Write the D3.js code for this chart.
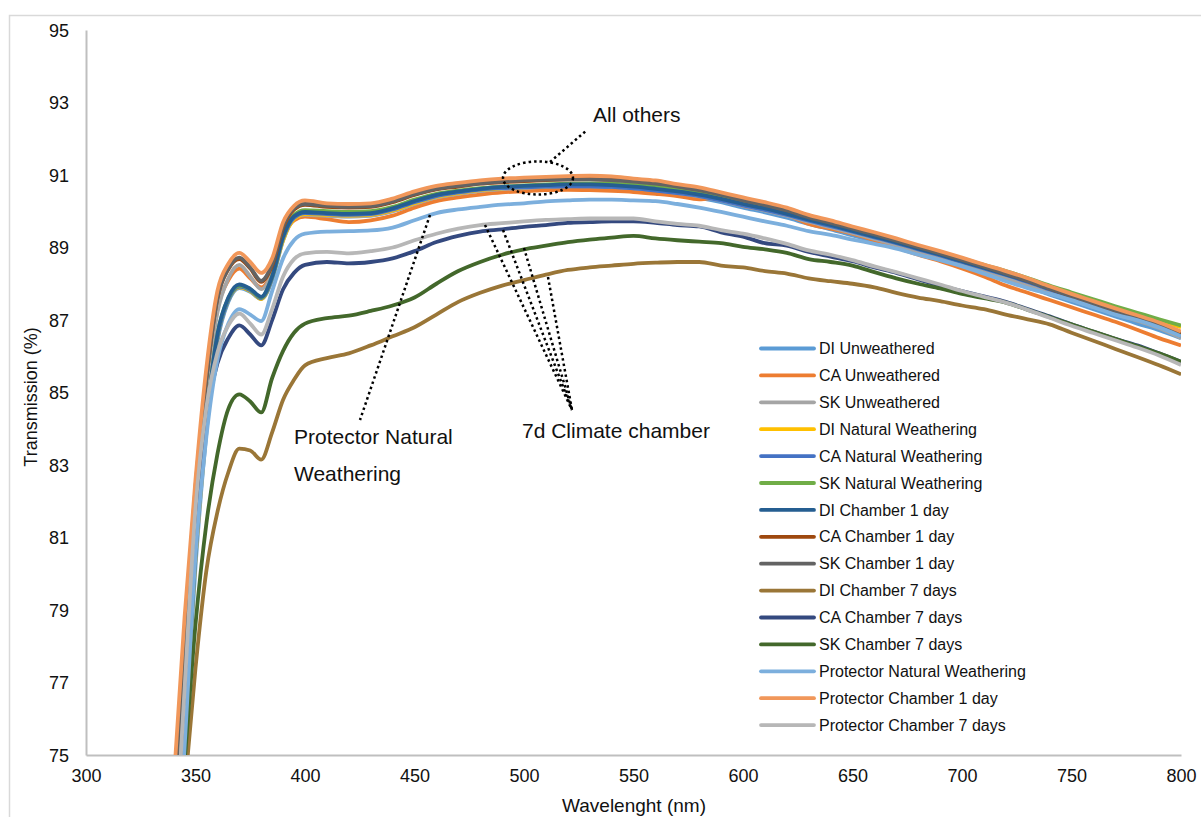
<!DOCTYPE html>
<html>
<head>
<meta charset="utf-8">
<script src="https://d3js.org/d3.v7.min.js"></script>
<style>
  body { margin: 0; background: #fff; }
  svg { font-family: "Liberation Sans", Arial, sans-serif; }
  .tick text { fill: #111; font-size: 18px; }
</style>
</head>
<body>
<svg id="chart" width="1201" height="817"></svg>
<script>
// wavelengths (nm) shared by every series
const wavelengths = [340,345,350,355,360,365,370,375,380,385,390,395,400,
  410,420,430,440,450,460,470,480,490,500,
  510,520,530,540,550,560,570,580,590,600,
  610,620,630,640,650,660,670,680,690,700,
  710,720,730,740,750,760,770,780,790,800];

const seriesNames = ["DI Unweathered","CA Unweathered","SK Unweathered",
  "DI Natural Weathering","CA Natural Weathering","SK Natural Weathering",
  "DI Chamber 1 day","CA Chamber 1 day","SK Chamber 1 day",
  "DI Chamber 7 days","CA Chamber 7 days","SK Chamber 7 days",
  "Protector Natural Weathering","Protector Chamber 1 day","Protector Chamber 7 days"];

const seriesColors = ["#5B9BD5","#ED7D31","#A5A5A5","#FFC000","#4472C4","#70AD47",
  "#255E91","#9E480E","#636363","#9A7637","#34497F","#43682B",
  "#7CAFDD","#F1975A","#B7B7B7"];

const diUnweathered = [71.5,75.3,80.2,83.9,86.4,87.5,87.88,87.78,87.58,88.1,89.2,89.78,89.9,
  89.88,89.86,89.88,90.0,90.2,90.38,90.48,90.56,90.6,90.63,
  90.65,90.66,90.66,90.64,90.6,90.54,90.46,90.37,90.25,90.1,
  89.97,89.82,89.65,89.5,89.33,89.17,89.0,88.82,88.65,88.47,
  88.29,88.1,87.91,87.7,87.5,87.3,87.1,86.9,86.72,86.5];
const caUnweathered = [73.2,78.0,82.0,85.2,87.3,88.1,88.42,88.15,87.9,88.3,89.3,89.75,89.85,
  89.78,89.7,89.75,89.88,90.1,90.28,90.38,90.46,90.52,90.55,
  90.58,90.59,90.58,90.56,90.53,90.48,90.42,90.33,90.4,90.15,
  90.05,89.9,89.65,89.52,89.38,89.2,89.0,88.8,88.62,88.42,
  88.2,87.95,87.75,87.55,87.35,87.15,86.95,86.73,86.5,86.3];
const skUnweathered = [73.0,77.8,81.9,85.0,87.2,88.15,88.52,88.2,87.85,88.3,89.35,89.82,89.9,
  89.87,89.85,89.88,90.0,90.2,90.38,90.48,90.56,90.61,90.64,
  90.67,90.69,90.7,90.68,90.64,90.58,90.5,90.41,90.29,90.15,
  90.02,89.88,89.71,89.56,89.4,89.24,89.07,88.89,88.72,88.54,
  88.36,88.17,87.97,87.76,87.56,87.36,87.17,86.98,86.78,86.5];
const diNatural = [71.8,75.6,80.4,84.0,86.5,87.55,87.9,87.8,87.58,88.15,89.2,89.78,89.92,
  89.9,89.88,89.9,90.02,90.22,90.4,90.5,90.58,90.63,90.66,
  90.69,90.71,90.72,90.7,90.67,90.62,90.55,90.46,90.34,90.21,
  90.09,89.94,89.78,89.63,89.47,89.31,89.15,88.97,88.81,88.65,
  88.47,88.3,88.11,87.9,87.71,87.52,87.34,87.16,86.98,86.8];
const caNatural = [71.9,75.7,80.5,84.1,86.5,87.55,87.92,87.82,87.6,88.15,89.25,89.82,89.95,
  89.92,89.9,89.92,90.05,90.25,90.42,90.52,90.6,90.64,90.66,
  90.68,90.69,90.69,90.67,90.63,90.57,90.5,90.42,90.3,90.16,
  90.04,89.9,89.74,89.59,89.44,89.28,89.12,88.95,88.78,88.6,
  88.42,88.24,88.05,87.84,87.64,87.44,87.24,87.05,86.86,86.62];
const skNatural = [72.0,75.8,80.6,84.2,86.6,87.6,87.95,87.85,87.62,88.2,89.3,89.9,90.03,
  90.0,89.98,90.0,90.12,90.32,90.48,90.57,90.64,90.68,90.71,
  90.74,90.76,90.77,90.76,90.73,90.68,90.6,90.52,90.4,90.27,
  90.15,90.0,89.83,89.68,89.52,89.36,89.2,89.02,88.86,88.7,
  88.52,88.35,88.16,87.95,87.76,87.57,87.38,87.2,87.02,86.85];
const diChamber1 = [71.9,75.7,80.6,84.2,86.6,87.62,87.98,87.86,87.64,88.2,89.3,89.86,89.98,
  89.95,89.93,89.95,90.08,90.28,90.45,90.55,90.62,90.67,90.7,
  90.72,90.74,90.74,90.72,90.68,90.62,90.55,90.46,90.34,90.2,
  90.08,89.93,89.77,89.62,89.46,89.3,89.14,88.97,88.8,88.62,
  88.44,88.26,88.07,87.86,87.66,87.46,87.26,87.07,86.88,86.6];
const caChamber1 = [73.6,78.4,82.4,85.4,87.6,88.4,88.68,88.42,88.05,88.5,89.55,90.05,90.18,
  90.12,90.1,90.12,90.25,90.45,90.6,90.68,90.76,90.8,90.83,
  90.86,90.88,90.89,90.87,90.83,90.78,90.7,90.6,90.47,90.32,
  90.19,90.04,89.85,89.7,89.54,89.38,89.21,89.03,88.86,88.68,
  88.49,88.3,88.1,87.88,87.67,87.47,87.27,87.08,86.88,86.6];
const skChamber1 = [73.5,78.3,82.3,85.4,87.6,88.42,88.72,88.45,88.08,88.55,89.6,90.08,90.2,
  90.15,90.12,90.14,90.27,90.47,90.62,90.7,90.77,90.82,90.85,
  90.87,90.88,90.88,90.86,90.82,90.76,90.68,90.58,90.45,90.3,
  90.17,90.02,89.83,89.68,89.52,89.36,89.19,89.01,88.84,88.66,
  88.47,88.28,88.08,87.86,87.65,87.45,87.25,87.06,86.85,86.56];
const diChamber7 = [70.0,74.0,77.4,80.1,81.7,82.8,83.45,83.4,83.15,83.9,84.8,85.35,85.75,
  85.95,86.08,86.3,86.55,86.8,87.15,87.5,87.75,87.95,88.1,
  88.25,88.38,88.45,88.5,88.55,88.58,88.6,88.6,88.5,88.45,
  88.35,88.28,88.15,88.07,88.0,87.9,87.75,87.62,87.52,87.4,
  87.3,87.15,87.02,86.88,86.65,86.43,86.2,85.98,85.75,85.5];
const caChamber7 = [70.5,75.8,81.3,84.3,85.8,86.5,86.85,86.6,86.3,87.0,87.85,88.3,88.52,
  88.6,88.56,88.6,88.7,88.9,89.15,89.32,89.44,89.5,89.57,
  89.62,89.68,89.7,89.72,89.72,89.68,89.62,89.58,89.42,89.3,
  89.12,89.05,88.88,88.75,88.62,88.45,88.3,88.12,87.95,87.8,
  87.65,87.5,87.3,87.1,86.88,86.68,86.48,86.3,86.08,85.85];
const skChamber7 = [71.0,74.8,78.6,81.4,83.3,84.55,84.95,84.75,84.45,85.4,86.15,86.65,86.9,
  87.05,87.12,87.25,87.4,87.62,88.0,88.35,88.6,88.8,88.95,
  89.05,89.15,89.22,89.27,89.32,89.25,89.2,89.16,89.12,89.02,
  88.95,88.85,88.68,88.6,88.5,88.32,88.15,88.0,87.87,87.72,
  87.6,87.48,87.28,87.08,86.88,86.68,86.48,86.28,86.08,85.85];
const protectorNatural = [70.5,75.2,80.5,83.8,85.9,86.9,87.3,87.15,86.97,87.8,88.7,89.2,89.38,
  89.44,89.45,89.47,89.55,89.75,89.95,90.05,90.12,90.18,90.22,
  90.27,90.3,90.32,90.32,90.3,90.28,90.2,90.1,89.98,89.85,
  89.72,89.6,89.45,89.35,89.22,89.1,88.97,88.8,88.65,88.48,
  88.28,88.07,87.88,87.72,87.55,87.35,87.15,87.0,86.8,86.55];
const protectorChamber1 = [74.2,78.8,82.6,85.7,87.8,88.55,88.85,88.6,88.3,88.7,89.7,90.15,90.3,
  90.22,90.2,90.22,90.35,90.55,90.7,90.78,90.85,90.9,90.93,
  90.95,90.97,90.98,90.96,90.9,90.85,90.75,90.66,90.52,90.38,
  90.25,90.1,89.9,89.75,89.58,89.42,89.25,89.07,88.9,88.72,
  88.53,88.35,88.15,87.93,87.72,87.52,87.32,87.13,86.93,86.68];
const protectorChamber7 = [71.5,76.8,81.8,84.6,86.1,86.85,87.18,86.9,86.6,87.3,88.2,88.68,88.84,
  88.88,88.84,88.9,89.0,89.2,89.38,89.52,89.62,89.67,89.72,
  89.76,89.78,89.8,89.8,89.8,89.72,89.65,89.6,89.48,89.38,
  89.25,89.1,88.92,88.8,88.65,88.48,88.32,88.15,87.98,87.8,
  87.64,87.48,87.28,87.06,86.84,86.64,86.44,86.24,86.02,85.76];

const seriesValues = [diUnweathered, caUnweathered, skUnweathered, diNatural, caNatural, skNatural,
  diChamber1, caChamber1, skChamber1, diChamber7, caChamber7, skChamber7,
  protectorNatural, protectorChamber1, protectorChamber7];

const xTicks = [300,350,400,450,500,550,600,650,700,750,800];
const yTicks = [75,77,79,81,83,85,87,89,91,93,95];

const svg = d3.select('#chart');

// outer chart frame
svg.append('rect')
  .attr('x', 9.5).attr('y', 15.5)
  .attr('width', 1195).attr('height', 810)
  .attr('fill', 'none').attr('stroke', '#D9D9D9').attr('stroke-width', 1.5);

const x = d3.scaleLinear().domain([300, 800]).range([86, 1181]);
const y = d3.scaleLinear().domain([75, 95]).range([755, 30]);

svg.append('defs').append('clipPath').attr('id', 'plotClip')
  .append('rect').attr('x', 86).attr('y', 30).attr('width', 1095).attr('height', 725);

// axes
const yAxis = svg.append('g').attr('transform', 'translate(86,0)')
  .call(d3.axisLeft(y).tickValues(yTicks).tickSize(0).tickPadding(17));
const xAxis = svg.append('g').attr('transform', 'translate(0,755)')
  .call(d3.axisBottom(x).tickValues(xTicks).tickSize(0).tickPadding(14));
svg.selectAll('.domain').attr('stroke', '#BFBFBF').attr('stroke-width', 2);
yAxis.selectAll('.tick text').attr('dy', '0.35em');

svg.append('text')
  .attr('x', 634).attr('y', 812)
  .attr('text-anchor', 'middle').attr('font-size', 19).attr('fill', '#111')
  .text('Wavelenght (nm)');
svg.append('text')
  .attr('transform', 'translate(37,397) rotate(-90)')
  .attr('text-anchor', 'middle').attr('font-size', 18).attr('fill', '#111')
  .text('Transmission (%)');

// series
const line = d3.line()
  .x((d, i) => x(wavelengths[i]))
  .y(d => y(d))
  .curve(d3.curveMonotoneX);

svg.append('g').attr('clip-path', 'url(#plotClip)')
  .selectAll('path').data(seriesValues)
  .enter()
  .append('path')
  .attr('d', line)
  .attr('fill', 'none')
  .attr('stroke', (d, i) => seriesColors[i])
  .attr('stroke-width', 3.8)
  .attr('stroke-linejoin', 'round');

// annotations (dotted callouts)
const ann = svg.append('g')
  .attr('stroke', '#000').attr('stroke-width', 2.5)
  .attr('stroke-dasharray', '2.5,3').attr('fill', 'none');
ann.append('ellipse').attr('cx', 538).attr('cy', 178).attr('rx', 35).attr('ry', 16.5);
ann.append('line').attr('x1', 550).attr('y1', 162).attr('x2', 587).attr('y2', 130);
ann.append('line').attr('x1', 430).attr('y1', 215).attr('x2', 360).attr('y2', 420);
[[485, 225], [503, 230], [524, 248], [548, 277]].forEach(function(p){
  ann.append('line').attr('x1', p[0]).attr('y1', p[1]).attr('x2', 572).attr('y2', 410);
});

svg.append('text').attr('x', 593).attr('y', 122).attr('font-size', 21).attr('fill', '#111').text('All others');
svg.append('text').attr('x', 522).attr('y', 438).attr('font-size', 21).attr('fill', '#111').text('7d Climate chamber');
svg.append('text').attr('x', 294).attr('y', 444).attr('font-size', 21).attr('fill', '#111').text('Protector Natural');
svg.append('text').attr('x', 294).attr('y', 481).attr('font-size', 21).attr('fill', '#111').text('Weathering');

// legend
const legend = svg.append('g').selectAll('g').data(seriesNames)
  .enter().append('g')
  .attr('transform', (d, i) => `translate(761,${348.5 + i * 26.9})`);
legend.append('line')
  .attr('x1', 0).attr('x2', 53).attr('y1', 0).attr('y2', 0)
  .attr('stroke', (d, i) => seriesColors[i]).attr('stroke-width', 3.8)
  .attr('stroke-linecap', 'round');
legend.append('text')
  .attr('x', 58).attr('y', 0).attr('dy', '0.35em')
  .attr('font-size', 16).attr('fill', '#111')
  .text(d => d);
</script>
</body>
</html>
